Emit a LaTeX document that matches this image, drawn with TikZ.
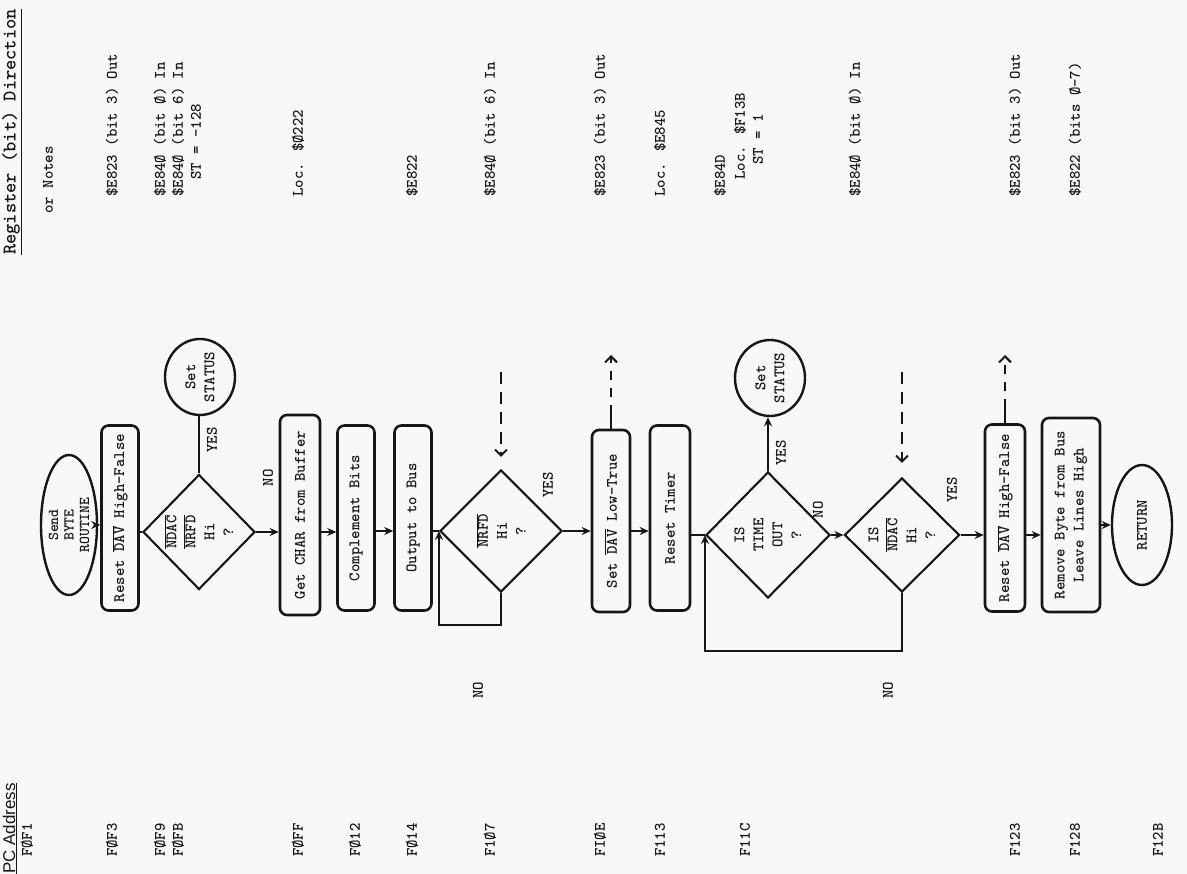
\documentclass[tikz,border=0pt]{standalone}
\usepackage{fontspec}
\newfontfamily\hdrfont{Liberation Sans}
\usetikzlibrary{shapes.geometric,arrows.meta,calc}
\newcommand\twsize[2]{\ttfamily\bfseries\fontsize{#1}{#2}\selectfont}
\newcommand\tw{\twsize{16}{19}}
\newcommand\ovl[1]{$\overline{\mbox{#1}}$}
\definecolor{paper}{RGB}{248,248,247}
\definecolor{ink}{RGB}{22,22,22}
\begin{document}
\begin{tikzpicture}[x=1pt,y=-1pt,
  every node/.style={font=\tw, text=ink},
  box/.style={draw=ink, line width=2.6pt, rounded corners=7pt, rotate=90, inner sep=2pt, align=center},
  dia/.style={draw=ink, diamond, line width=2.1pt, rotate=90, inner sep=0pt, align=center},
  oval/.style={draw=ink, ellipse, line width=2.4pt, rotate=90, inner sep=0pt, align=center},
  lbl/.style={rotate=90},
  note/.style={rotate=90, anchor=west, inner sep=0pt, align=left},
  flow/.style={draw=ink, line width=2pt, -{Stealth[length=9pt,width=8pt]}},
  plain/.style={draw=ink, line width=2pt},
  dsh/.style={draw=ink, line width=2.6pt, dash pattern=on 12pt off 8pt, -{Straight Barb[length=6pt,width=12pt,line width=2pt]}},
  dshb/.style={draw=ink, line width=2.6pt, dash pattern=on 24pt off 8pt on 9pt off 8pt on 9pt off 8pt, -{Straight Barb[length=6pt,width=12pt,line width=2pt]}},
]
\fill[paper] (0,0) rectangle (1187,874);

% headers
\node[note, font=\twsize{19.5}{22}] (reghead) at (12,255) {\underline{Register (bit) Direction}};
\node[lbl] (ornotes) at (48,180) {or Notes};
\node[note, font=\hdrfont\fontsize{17}{19}\selectfont] (pchead) at (10,874) {\underline{PC Address}};

% addresses
\node[note] (a0) at (27,857) {FØF1};
\node[note] (a1) at (112,857) {FØF3};
\node[note] (a2) at (160,857) {FØF9};
\node[note] (a3) at (178,857) {FØFB};
\node[note] (a4) at (298,857) {FØFF};
\node[note] (a5) at (355,857) {FØ12};
\node[note] (a6) at (412,857) {FØ14};
\node[note] (a7) at (490,857) {F1Ø7};
\node[note] (a8) at (600,857) {FIØE};
\node[note] (a9) at (660,857) {F113};
\node[note] (a10) at (745,857) {F11C};
\node[note] (a11) at (1015,857) {F123};
\node[note] (a12) at (1075,857) {F128};
\node[note] (a13) at (1158,857) {F12B};

% notes
\node[note] (n1) at (112,197) {\$E823 (bit 3) Out};
\node[note] (n2a) at (160,197) {\$E84Ø (bit Ø) In};
\node[note] (n2b) at (178,197) {\$E84Ø (bit 6) In};
\node[note] (n2c) at (196,180) {ST = -128};
\node[note] (n3) at (298,197) {Loc. \$Ø222};
\node[note] (n4) at (412,197) {\$E822};
\node[note] (n5) at (490,197) {\$E84Ø (bit 6) In};
\node[note] (n6) at (600,197) {\$E823 (bit 3) Out};
\node[note] (n7) at (660,197) {Loc. \$E845};
\node[note] (n8a) at (720,197) {\$E84D};
\node[note] (n8b) at (740,180) {Loc. \$F13B};
\node[note] (n8c) at (758,165) {ST = 1};
\node[note] (n9) at (855,197) {\$E84Ø (bit Ø) In};
\node[note] (n10) at (1015,197) {\$E823 (bit 3) Out};
\node[note] (n11) at (1075,197) {\$E822 (bits Ø-7)};

% flowchart nodes
\node[oval, inner ysep=-20pt, minimum width=140pt, minimum height=56pt, font=\twsize{15}{15.5}] (send) at (69,525) {Send\\BYTE\\ROUTINE};
\node[box, minimum width=185pt, minimum height=37pt] (b1) at (120,518) {Reset \ovl{DAV} High-False};
\node[dia, minimum width=115pt, minimum height=112pt] (d1) at (199,532) {\ovl{NDAC}\\\ovl{NRFD}\\Hi\\?};
\node[oval, minimum width=76pt, minimum height=70pt] (s1) at (200,377) {Set\\STATUS};
\node[box, minimum width=200pt, minimum height=40pt] (b2) at (300,515) {Get CHAR from Buffer};
\node[box, minimum width=185pt, minimum height=37pt] (b3) at (356,518) {Complement Bits};
\node[box, minimum width=185pt, minimum height=37pt] (b4) at (413,518) {Output to Bus};
\node[dia, minimum width=122pt, minimum height=122pt] (d2) at (501,531) {\ovl{NRFD}\\Hi\\?};
\node[box, minimum width=182pt, minimum height=38pt] (b5) at (611,521) {Set \ovl{DAV} Low-True};
\node[box, minimum width=185pt, minimum height=40pt] (b6) at (670,518) {Reset Timer};
\node[dia, minimum width=126pt, minimum height=124pt] (d3) at (768,535) {IS\\TIME\\OUT\\?};
\node[oval, minimum width=76pt, minimum height=70pt] (s2) at (770,378) {Set\\STATUS};
\node[dia, minimum width=114pt, minimum height=115pt] (d4) at (902,535) {IS\\\ovl{NDAC}\\Hi\\?};
\node[box, minimum width=187pt, minimum height=40pt] (b7) at (1005,518) {Reset \ovl{DAV} High-False};
\node[box, minimum width=194pt, minimum height=58pt] (b8) at (1071,515) {Remove Byte from Bus\\Leave Lines High};
\node[oval, minimum width=120pt, minimum height=60pt] (ret) at (1142,525) {RETURN};

% labels
\node[lbl] (yes1) at (212,440) {YES};
\node[lbl] (no1) at (268,478) {NO};
\node[lbl] (no2) at (478,690) {NO};
\node[lbl] (yes2) at (548,485) {YES};
\node[lbl] (yes3) at (781,453) {YES};
\node[lbl] (no3) at (818,510) {NO};
\node[lbl] (no4) at (888,690) {NO};
\node[lbl] (yes4) at (952,490) {YES};

% connectors
\draw[flow] (send.south) -- (send.south -| b1.north);
\draw[plain] (b1.south |- d1.north) -- (d1.north);
\draw[plain] (d1.east) -- (d1.east |- s1.west);
\draw[flow] (d1.south) -- (d1.south -| b2.north);
\draw[flow] (b2.south |- d1.south) -- (b3.north |- d1.south);
\draw[flow] (b3.south |- d2.north) -- (b4.north |- d2.north);
\draw[plain] (b4.south |- d2.north) -- (d2.north);
\draw[flow] (d2.west) -- ++(0,32) -| (d2.north);
\draw[flow] (d2.south) -- (d2.south -| b5.north);
\draw[flow] (b5.south |- d2.south) -- (b6.north |- d2.south);
\draw[plain] (b6.south |- d3.north) -- (d3.north);
\draw[flow] (d3.east) -- (d3.east |- s2.west);
\draw[flow] (d3.south) -- (d4.north);
\draw[flow] (d4.west) -- ++(0,58) -| (d3.north);
\draw[flow] (d4.south) -- (d4.south -| b7.north);
\draw[flow] (b7.south |- d4.south) -- (b8.north |- d4.south);
\draw[flow] (b8.south |- ret.north) -- (ret.north);

% dashed arrows
\coordinate (c1) at (501,372);
\coordinate (c2) at (611,355);
\coordinate (c3) at (902,372);
\coordinate (c4) at (1005,355);
\draw[dsh, shorten >=12pt] (c1) -- (d2.east);
\draw[dshb] (b5.east) -- (c2);
\draw[dsh, shorten >=14pt] (c3) -- (d4.east);
\draw[dshb] (b7.east) -- (c4);
\end{tikzpicture}
\end{document}
